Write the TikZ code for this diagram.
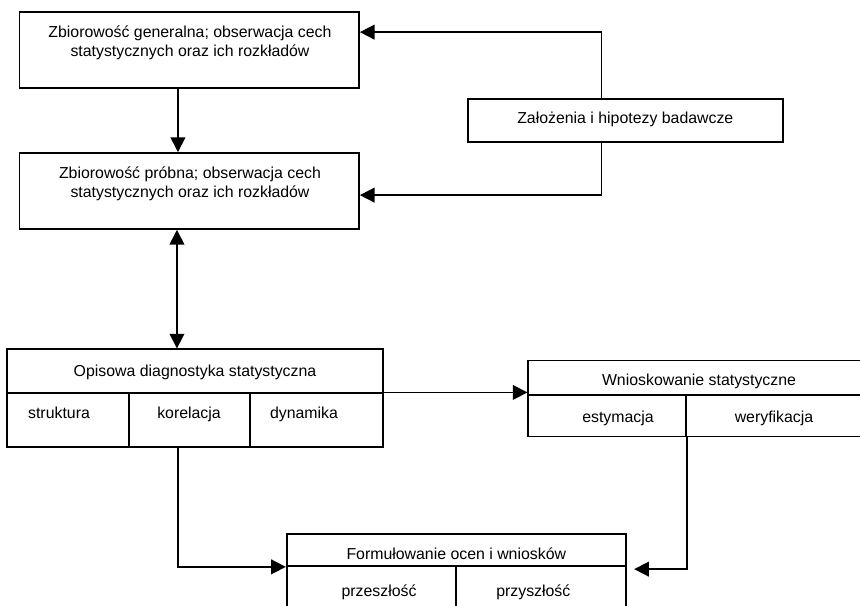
\documentclass[tikz,border=0pt]{standalone}
\usepackage{fontspec}
\setmainfont{Liberation Sans}
\usetikzlibrary{arrows.meta,calc,fit}

\begin{document}
\begin{tikzpicture}[
  x=0.75pt, y=-0.75pt,
  box/.style={draw, line width=1.3pt, inner sep=0pt, rectangle},
  txt/.style={inner sep=0pt, font=\fontsize{11.9pt}{14.25pt}\selectfont},
  link/.style={line width=1.3pt},
  arr/.style={link, -{Triangle[length=11pt,width=11pt]}},
  arrboth/.style={link, {Triangle[length=11pt,width=11pt]}-{Triangle[length=11pt,width=11pt]}}
]
\clip (0,0) rectangle (860,606);
\fill[white] (0,0) rectangle (860,606);

% population and sample
\node[box, fit={(19.5,12) (359,88)}] (b1) {};
\node[txt, align=center] (b1t) at (190,43)
  {Zbiorowość generalna; obserwacja cech\\statystycznych oraz ich rozkładów};
\node[box, fit={(19.5,153) (359,229)}] (b2) {};
\node[txt, align=center] (b2t) at (190,184)
  {Zbiorowość próbna; obserwacja cech\\statystycznych oraz ich rozkładów};

% assumptions
\node[box, fit={(467.7,98.7) (783.3,142.3)}] (z) {};
\node[txt, anchor=base] (zt) at (625.3,124) {Założenia i hipotezy badawcze};

% descriptive diagnostics
\node[box, fit={(7.3,349.3) (383.3,393.3)}] (opT) {};
\node[box, fit={(7.3,393.3) (129,446.7)}] (opA) {};
\node[box, fit={(129,393.3) (250,446.7)}] (opB) {};
\node[box, fit={(250,393.3) (383.3,446.7)}] (opC) {};
\node[txt, anchor=base] (opTt) at (195,376.7) {Opisowa diagnostyka statystyczna};
\node[txt, anchor=base] (opAt) at (59,418.3) {struktura};
\node[txt, anchor=base] (opBt) at (189,418.3) {korelacja};
\node[txt, anchor=base] (opCt) at (304,418.3) {dynamika};

% statistical inference
\node[box, fit={(528.3,360.5) (872,395)}] (wT) {};
\node[box, fit={(528.3,395) (686,436.5)}] (wA) {};
\node[box, fit={(686,395) (872,436.5)}] (wB) {};
\node[txt, anchor=base] (wTt) at (699,385) {Wnioskowanie statystyczne};
\node[txt, anchor=base] (wAt) at (618,422.3) {estymacja};
\node[txt, anchor=base] (wBt) at (774,422.3) {weryfikacja};

% conclusions
\node[box, fit={(286.7,534.3) (625.7,566)}] (fT) {};
\node[box, fit={(286.7,566) (456,620)}] (fA) {};
\node[box, fit={(456,566) (625.7,620)}] (fB) {};
\node[txt, anchor=base] (fTt) at (456.3,559.3) {Formułowanie ocen i wniosków};
\node[txt, anchor=base] (fAt) at (379,596.7) {przeszłość};
\node[txt, anchor=base] (fBt) at (533.3,596.7) {przyszłość};

% connectors
\draw[arr] ($(z.north west)!0.4246!(z.north east)$) |- ($(b1.north east)+(0,21)$);
\draw[arr] ($(z.south west)!0.4246!(z.south east)$) |- ($(b2.north east)+(0,43)$);
\draw[arr] ($(b1.south)+(-11.3,0)$) coordinate (s1) -- (s1 |- b2.north);
\draw[arrboth] ($(b2.south)+(-12.3,0)$) coordinate (s2) -- (s2 |- opT.north);
\draw[arr] (opC.north east) -- (opC.north east -| wT.west);
\draw[arr] ($(opA.south east)+(48,0)$) |- (fT.south west);
\draw[arr] (wA.south east) |- ($(fB.north east)+(7.6,4)$);
\end{tikzpicture}
\end{document}
